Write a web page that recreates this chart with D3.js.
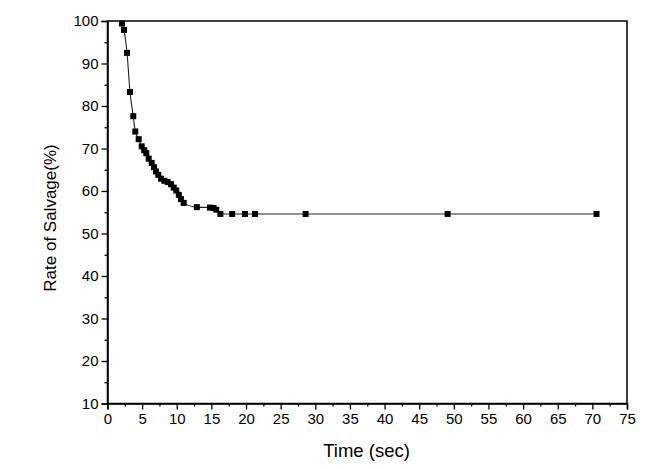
<!DOCTYPE html>
<html><head><meta charset="utf-8">
<script src="https://cdn.jsdelivr.net/npm/d3@7"></script>
<style>body{margin:0;background:#fff;} svg{display:block;}</style>
</head><body>
<svg id="c" width="659" height="469"></svg>
<script>
const timeSec = [2.09, 2.38, 2.82, 3.25, 3.72, 4.01, 4.5, 4.94, 5.3, 5.6, 5.95, 6.38, 6.71, 7.0, 7.33, 7.72, 8.2, 8.69, 9.17, 9.56, 9.93, 10.3, 10.6, 11.0, 12.9, 14.8, 15.3, 15.7, 16.3, 18.0, 19.85, 21.3, 28.6, 49.1, 70.6];
const salvage = [99.4, 97.9, 92.5, 83.3, 77.6, 74.0, 72.2, 70.5, 69.6, 68.9, 67.6, 66.6, 65.6, 64.6, 63.8, 62.9, 62.4, 62.1, 61.6, 60.8, 60.1, 59.1, 58.1, 57.2, 56.2, 56.1, 56.0, 55.6, 54.6, 54.6, 54.6, 54.6, 54.6, 54.6, 54.6];
const xTicks = d3.range(0, 76, 5);
const yTicks = d3.range(10, 101, 10);
const xTitle = "Time (sec)";
const yTitle = "Rate of Salvage(%)";

const L = 107.5, R = 627, T = 21, B = 403.5;
const svg = d3.select("#c");
const x = d3.scaleLinear().domain([0, 75]).range([L, R]);
const y = d3.scaleLinear().domain([10, 100]).range([B, T]);
const font = "Liberation Sans, Arial, sans-serif";

// frame
svg.append("rect").attr("x", L).attr("y", T).attr("width", R - L).attr("height", B - T)
  .attr("fill", "none").attr("stroke", "#000").attr("stroke-width", 1.5);

// x axis
svg.append("g").attr("transform", `translate(0,${B})`)
  .call(d3.axisBottom(x).tickValues(xTicks).tickSize(6).tickPadding(4).tickFormat(d3.format("d")));
svg.append("g").attr("transform", `translate(0,${B})`)
  .call(d3.axisBottom(x).tickValues(d3.range(2.5, 75, 5)).tickSize(3).tickFormat(""))
  .call(g => g.select(".domain").remove());
// y axis
svg.append("g").attr("transform", `translate(${L},0)`)
  .call(d3.axisLeft(y).tickValues(yTicks).tickSize(6).tickPadding(3).tickFormat(d3.format("d")));
svg.append("g").attr("transform", `translate(${L},0)`)
  .call(d3.axisLeft(y).tickValues(d3.range(15, 100, 10)).tickSize(3).tickFormat(""))
  .call(g => g.select(".domain").remove());

svg.selectAll(".tick line").attr("stroke", "#000").attr("stroke-width", 1.3);
svg.selectAll(".domain").attr("stroke", "#000").attr("stroke-width", 1.5);
svg.selectAll(".tick text").attr("font-family", font).attr("font-size", 15).attr("fill", "#000");

// line
const pts = timeSec.map((t, i) => [t, salvage[i]]);
svg.append("path").datum(pts)
  .attr("fill", "none").attr("stroke", "#222").attr("stroke-width", 1.1)
  .attr("d", d3.line().x(d => x(d[0])).y(d => y(d[1])).curve(d3.curveMonotoneX));

// markers
svg.selectAll("rect.m").data(pts).enter().append("rect").attr("class", "m")
  .attr("x", d => x(d[0]) - 3).attr("y", d => y(d[1]) - 3)
  .attr("width", 6).attr("height", 6).attr("fill", "#000");

// titles
svg.append("text").attr("x", 366.5).attr("y", 457).attr("text-anchor", "middle")
  .attr("font-family", font).attr("font-size", 18.5).text(xTitle);
svg.append("text").attr("transform", `translate(56,218) rotate(-90)`)
  .attr("text-anchor", "middle").attr("font-family", font).attr("font-size", 17).text(yTitle);
</script>
</body></html>
